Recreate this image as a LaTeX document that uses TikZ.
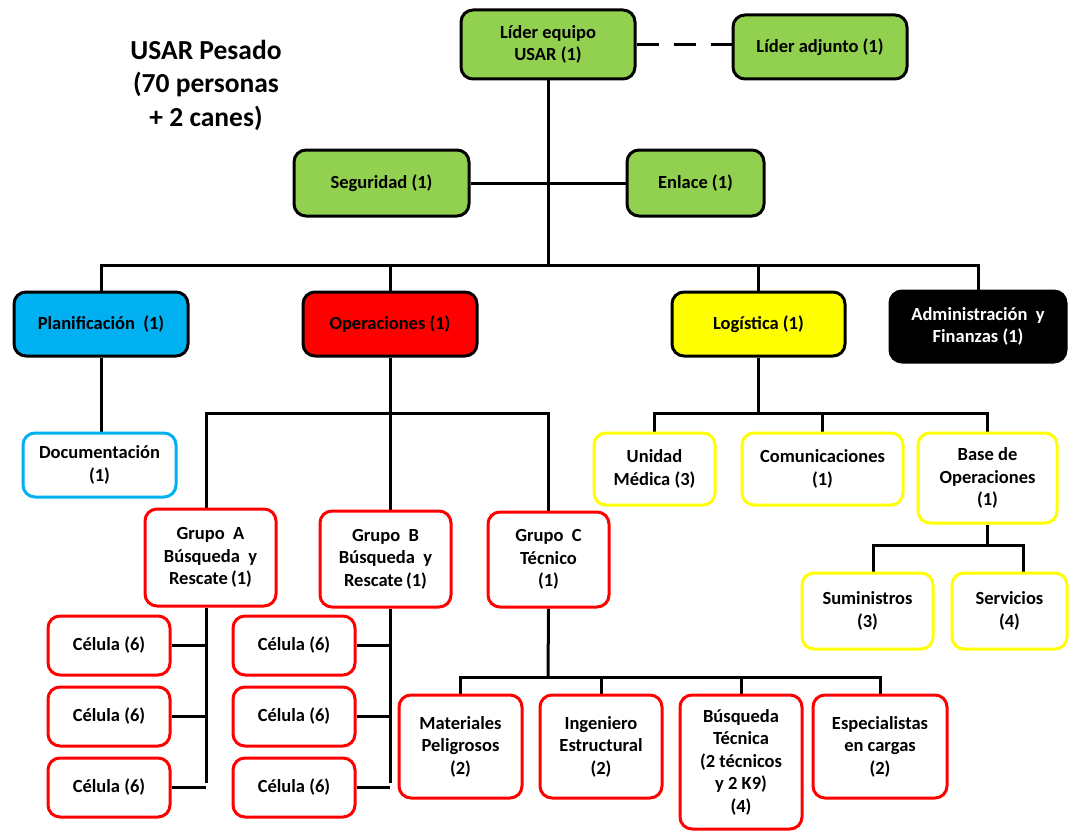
\documentclass[tikz,border=0pt]{standalone}
\usepackage{fontspec}
\setmainfont{Carlito}
\usetikzlibrary{backgrounds}
\definecolor{cgreen}{HTML}{92D050}
\definecolor{cblue}{HTML}{00B0F0}
\definecolor{cred}{HTML}{FF0000}
\definecolor{cyellow}{HTML}{FFFF00}
\begin{document}
\begin{tikzpicture}[x=1pt,y=-1pt,
  box/.style={rectangle, rounded corners=12pt, line width=3pt, align=center,
    font=\fontsize{18.5}{22.5}\selectfont\bfseries, inner sep=0pt},
  sz/.style 2 args={minimum width=#1pt, minimum height=#2pt},
  greenbox/.style={box, draw=black, fill=cgreen},
  bluebox/.style={box, draw=black, fill=cblue},
  redbox/.style={box, draw=black, fill=cred},
  yellowbox/.style={box, draw=black, fill=cyellow},
  blackbox/.style={box, draw=black, fill=black, text=white},
  blueline/.style={box, draw=cblue, fill=white},
  redline/.style={box, draw=cred, fill=white},
  yellowline/.style={box, draw=cyellow, fill=white},
  conn/.style={line width=3pt, draw=black},
  titletext/.style={align=center, font=\fontsize{27.5}{33.5}\selectfont\bfseries},
]
\useasboundingbox (0,0) rectangle (1070,832);

% title
\node[titletext] (title) at (206,85) {USAR Pesado\\(70 personas\\+ 2 canes)};

% top level
\node[greenbox, sz={174}{69}] (lider) at (548,44.5) {Líder equipo\\USAR (1)};
\node[greenbox, sz={174}{64}] (adjunto) at (820,47) {Líder adjunto (1)};
\node[greenbox, sz={175}{66}] (seg) at (381.5,183) {Seguridad (1)};
\node[greenbox, sz={137}{66}] (enlace) at (695.5,183) {Enlace (1)};

% sections
\node[bluebox, sz={174}{64}] (plan) at (101,324) {Planificación\ \ (1)};
\node[redbox, sz={174}{64}] (ops) at (390,324) {Operaciones (1)};
\node[yellowbox, sz={173}{64}] (log) at (758.5,324) {Logística (1)};
\node[blackbox, sz={176}{71}] (admin) at (978,326.5) {Administración\ \ y\\Finanzas (1)};

% planning
\node[blueline, sz={153}{64}] (doc) at (99.5,465) {Documentación\\(1)};

% operations
\node[redline, sz={131}{97}] (gA) at (210.5,557.5) {Grupo\ \ A\\Búsqueda\ \ y\\Rescate\,(1)};
\node[redline, sz={131}{96}] (gB) at (385.5,559) {Grupo\ \ B\\Búsqueda\ \ y\\Rescate\,(1)};
\node[redline, sz={121}{95}] (gC) at (548.5,559.5) {Grupo\ \ C\\Técnico\\(1)};

\node[redline, sz={122}{59}] (cA1) at (109,645.5) {Célula (6)};
\node[redline, sz={122}{59}] (cA2) at (109,716.5) {Célula (6)};
\node[redline, sz={122}{59}] (cA3) at (109,787.5) {Célula (6)};
\node[redline, sz={122}{59}] (cB1) at (294,645.5) {Célula (6)};
\node[redline, sz={122}{59}] (cB2) at (294,716.5) {Célula (6)};
\node[redline, sz={122}{59}] (cB3) at (294,787.5) {Célula (6)};

\node[redline, sz={123}{103}] (mat) at (460.5,746.5) {Materiales\\Peligrosos\\(2)};
\node[redline, sz={122}{103}] (ing) at (601,746.5) {Ingeniero\\Estructural\\(2)};
\node[redline, sz={122}{134}] (bt) at (741,762) {Búsqueda\\Técnica\\(2 técnicos\\y 2 K9)\\(4)};
\node[redline, sz={134}{103}] (esp) at (880,746.5) {Especialistas\\en cargas\\(2)};

% logistics
\node[yellowline, sz={121}{72}] (med) at (654.5,469) {Unidad\\Médica (3)};
\node[yellowline, sz={161}{72}] (com) at (822.5,469) {Comunicaciones\\(1)};
\node[yellowline, sz={139}{90}] (base) at (987.5,478) {Base de\\Operaciones\\(1)};
\node[yellowline, sz={131}{76}] (sum) at (867.5,611) {Suministros\\(3)};
\node[yellowline, sz={115}{76}] (serv) at (1009.5,611) {Servicios\\(4)};

% bus coordinates
\coordinate (b1) at (548,265);
\coordinate (aTop) at (206,413);
\coordinate (aBot) at (206,783);
\coordinate (bBot) at (390,783);
\coordinate (cbus) at (548,677);
\coordinate (lbus) at (759,413);
\coordinate (s1) at (873,545);
\coordinate (s2) at (1023,545);

\begin{scope}[on background layer]
  % top
  \draw[conn, dash pattern=on 22pt off 15pt] (lider.east |- 0,45) -- (adjunto.west |- 0,45);
  \draw[conn] (lider.south) -- (b1);
  \draw[conn] (seg.east) -- (enlace.west);
  \draw[conn] (plan.north) -- (plan.north |- b1) -- (admin.north |- b1) -- (admin.north);
  \draw[conn] (ops.north) -- (ops.north |- b1);
  \draw[conn] (log.north) -- (log.north |- b1);
  % planning
  \draw[conn] (plan.south) -- (plan.south |- doc.north);
  % operations
  \draw[conn] (ops.south) -- (ops.south |- gB.north);
  \draw[conn] (aTop |- gA.north) -- (aTop) -- (aTop -| gC.north) -- (gC.north);
  \draw[conn] (aTop |- gA.south) -- (aBot);
  \draw[conn] (ops.south |- gB.south) -- (bBot);
  \draw[conn] (cA1.east) -- (cA1.east -| aBot);
  \draw[conn] (cA2.east) -- (cA2.east -| aBot);
  \draw[conn] (cA3.east) -- (cA3.east -| aBot);
  \draw[conn] (cB1.east) -- (cB1.east -| bBot);
  \draw[conn] (cB2.east) -- (cB2.east -| bBot);
  \draw[conn] (cB3.east) -- (cB3.east -| bBot);
  \draw[conn] (gC.south) -- (cbus);
  \draw[conn] (mat.north) -- (mat.north |- cbus) -- (esp.north |- cbus) -- (esp.north);
  \draw[conn] (ing.north) -- (ing.north |- cbus);
  \draw[conn] (bt.north) -- (bt.north |- cbus);
  % logistics
  \draw[conn] (log.south) -- (log.south |- lbus);
  \draw[conn] (med.north) -- (med.north |- lbus) -- (base.north |- lbus) -- (base.north);
  \draw[conn] (com.north) -- (com.north |- lbus);
  \draw[conn] (base.south) -- (base.south |- s1);
  \draw[conn] (s1 |- sum.north) -- (s1) -- (s2) -- (s2 |- serv.north);
\end{scope}
\end{tikzpicture}
\end{document}
